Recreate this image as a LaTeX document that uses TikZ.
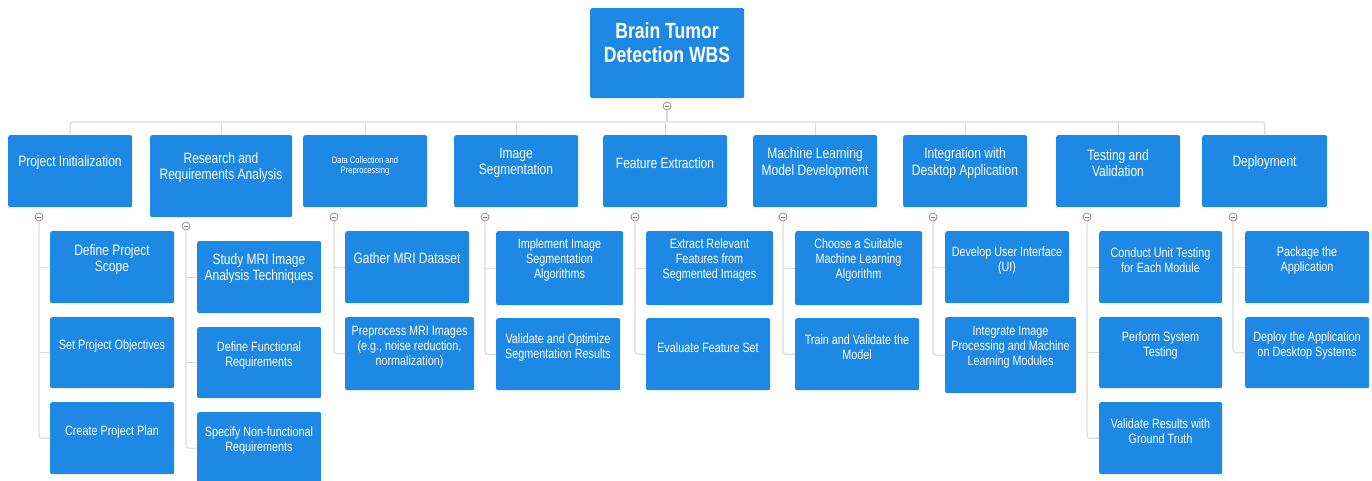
\documentclass[tikz,border=0pt]{standalone}
\usepackage{fontspec}
\newfontfamily\wbsfont[FakeStretch=0.8]{Liberation Sans}
\definecolor{wbsblue}{HTML}{1E88E5}
\definecolor{linkgray}{HTML}{DCDCDC}
\definecolor{knobgray}{HTML}{808080}

\tikzset{
  cell/.style={fill=wbsblue, draw=none, rounded corners=2pt, inner sep=0pt},
  lbl/.style={text=white, align=center, inner sep=0pt},
  froot/.style={font=\wbsfont\bfseries\fontsize{22}{24}\selectfont},
  fbig/.style={font=\wbsfont\fontsize{15}{16.5}\selectfont},
  fmid/.style={font=\wbsfont\fontsize{13.5}{15}\selectfont},
  fsmall/.style={font=\wbsfont\fontsize{9.5}{10.5}\selectfont},
  link/.style={draw=linkgray, line width=1.2pt},
  knob/.style={circle, draw=knobgray, fill=white, line width=0.7pt,
    minimum size=8pt, inner sep=0pt,
    path picture={\draw[knobgray, line width=0.7pt]
      ([xshift=-2pt]path picture bounding box.center) --
      ([xshift=2pt]path picture bounding box.center);}},
}

% #1 name, #2..#5 corners (x1,y1,x2,y2), #6 font style, #7 text drop, #8 text
\newcommand\wbsbox[8]{%
  \node[cell, anchor=north west, minimum width={(#4-#2)*1pt},
        minimum height={(#5-#3)*1pt}] (#1) at (#2,#3) {};
  \node[lbl, #6] (#1-t) at ({(#2+#4)/2},{#3+#7}) {#8};
}

\begin{document}
\begin{tikzpicture}[x=1pt, y=-1pt]
\useasboundingbox (0,0) rectangle (1372,480);
\fill[white] (0,0) rectangle (1372,480);
\clip (0,0) rectangle (1372,480);

% root
\wbsbox{root}{590}{8}{744}{98}{froot}{34.5}{Brain Tumor\\Detection WBS}

% work packages
\wbsbox{pi}{8}{135}{132}{207}{fbig}{28}{Project Initialization}
\wbsbox{ra}{150}{135}{292}{217}{fbig}{32.5}{Research and\\Requirements Analysis}
\wbsbox{dc}{303}{135}{427}{207}{fsmall}{31}{Data Collection and\\Preprocessing}
\wbsbox{is}{454}{135}{578}{207}{fbig}{28}{Image\\Segmentation}
\wbsbox{fe}{603}{135}{727}{207}{fbig}{28}{Feature Extraction}
\wbsbox{ml}{753}{135}{877}{207}{fbig}{28}{Machine Learning\\Model Development}
\wbsbox{ia}{903}{135}{1027}{207}{fbig}{28}{Integration with\\Desktop Application}
\wbsbox{tv}{1056}{135}{1180}{207}{fbig}{28}{Testing and\\Validation}
\wbsbox{de}{1202}{135}{1327}{207}{fbig}{28}{Deployment}

% tasks
\wbsbox{pi1}{50}{231}{174}{303}{fbig}{28.5}{Define Project\\Scope}
\wbsbox{pi2}{50}{317}{174}{388}{fmid}{29.5}{Set Project Objectives}
\wbsbox{pi3}{50}{402}{174}{474}{fmid}{29.5}{Create Project Plan}

\wbsbox{ra1}{197}{241}{321}{313}{fbig}{27.5}{Study MRI Image\\Analysis Techniques}
\wbsbox{ra2}{197}{327}{321}{398}{fmid}{28.5}{Define Functional\\Requirements}
\wbsbox{ra3}{197}{412}{321}{484}{fmid}{28.5}{Specify Non-functional\\Requirements}

\wbsbox{dc1}{345}{231}{469}{303}{fbig}{27.5}{Gather MRI Dataset}
\wbsbox{dc2}{345}{317}{474}{390}{fmid}{30.5}{Preprocess MRI Images\\(e.g., noise reduction,\\normalization)}

\wbsbox{is1}{496}{231}{623}{305}{fmid}{29.5}{Implement Image\\Segmentation\\Algorithms}
\wbsbox{is2}{496}{318}{620}{390}{fmid}{29.5}{Validate and Optimize\\Segmentation Results}

\wbsbox{fe1}{646}{231}{773}{305}{fmid}{29.5}{Extract Relevant\\Features from\\Segmented Images}
\wbsbox{fe2}{646}{318}{770}{390}{fmid}{29.5}{Evaluate Feature Set}

\wbsbox{ml1}{795}{231}{922}{305}{fmid}{29.5}{Choose a Suitable\\Machine Learning\\Algorithm}
\wbsbox{ml2}{795}{318}{919}{390}{fmid}{29.5}{Train and Validate the\\Model}

\wbsbox{ia1}{945}{231}{1069}{303}{fmid}{29.5}{Develop User Interface\\(UI)}
\wbsbox{ia2}{945}{317}{1076}{393}{fmid}{30.5}{Integrate Image\\Processing and Machine\\Learning Modules}

\wbsbox{tv1}{1099}{231}{1222}{303}{fmid}{29.5}{Conduct Unit Testing\\for Each Module}
\wbsbox{tv2}{1099}{317}{1222}{388}{fmid}{28.5}{Perform System\\Testing}
\wbsbox{tv3}{1099}{402}{1222}{474}{fmid}{29.5}{Validate Results with\\Ground Truth}

\wbsbox{de1}{1245}{231}{1369}{303}{fmid}{29.5}{Package the\\Application}
\wbsbox{de2}{1245}{317}{1369}{388}{fmid}{28.5}{Deploy the Application\\on Desktop Systems}

% collapse knobs
\node[knob] (k-root) at (667,106) {};
\node[knob] (k-pi) at (39,217) {};
\node[knob] (k-ra) at (186,226) {};
\node[knob] (k-dc) at (334,217) {};
\node[knob] (k-is) at (485,217) {};
\node[knob] (k-fe) at (635,217) {};
\node[knob] (k-ml) at (783,217) {};
\node[knob] (k-ia) at (933,217) {};
\node[knob] (k-tv) at (1087,217) {};
\node[knob] (k-de) at (1233,217) {};

% top-level bus
\coordinate (bus) at (0,122);
\draw[link] (k-root.south) -- (k-root |- bus);
\draw[link, rounded corners=3pt] (pi.north) -- (pi.north |- bus) -- (de.north |- bus) -- (de.north);
\foreach \p in {ra,dc,is,fe,ml,ia,tv}
  \draw[link] (\p.north |- bus) -- (\p.north);

% task branches
\foreach \p/\s/\l in {pi/{1,2}/3, ra/{1,2}/3, dc/1/2, is/1/2, fe/1/2,
                      ml/1/2, ia/1/2, tv/{1,2}/3, de/1/2} {
  \draw[link, rounded corners=3pt] (k-\p.south) |- (\p\l.west);
  \foreach \i in \s
    \draw[link] (k-\p.south |- \p\i.west) -- (\p\i.west);
}
\end{tikzpicture}
\end{document}
